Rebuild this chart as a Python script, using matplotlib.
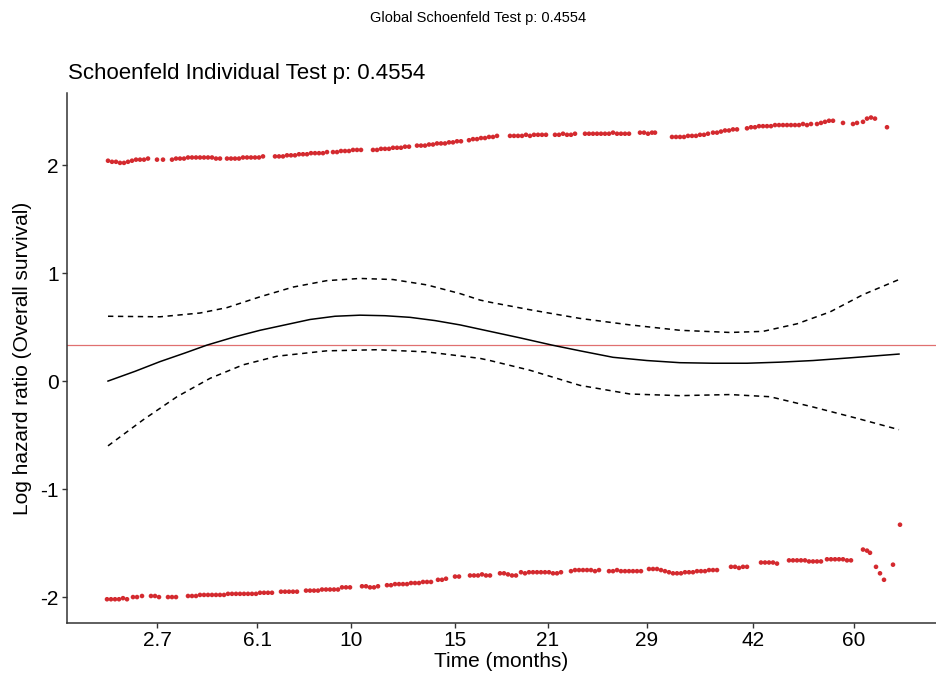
import matplotlib
matplotlib.use("Agg")
import matplotlib.pyplot as plt

plt.rcParams['font.family'] = ['Liberation Sans', 'DejaVu Sans']

# transformed time axis (km-scale, arbitrary units)
tick_pos = [100, 200, 294, 398, 491, 590, 696, 797]
tick_labels = ['2.7', '6.1', '10', '15', '21', '29', '42', '60']

# upper residual band
up_x = [51, 55, 59, 63, 67, 71, 75, 79, 83, 87, 91,
        100, 106,
        115, 119, 123, 127, 131, 135, 139, 143, 147, 151, 155, 159, 163,
        170, 174, 178, 182, 186, 190, 194, 198, 202, 206,
        218, 222, 226, 230, 234, 238, 242, 246, 250, 254,
        258, 262, 266, 270, 276, 280, 284, 288, 292, 296, 300, 304,
        316, 320, 324, 328, 332, 336, 340, 344, 348, 352, 360, 364, 368, 372,
        376, 380, 384, 388, 392, 396, 400, 404, 412, 416, 420, 424, 428, 432,
        436, 440,
        453, 457, 461, 465, 469, 473, 477, 481, 485, 489,
        498, 502, 506, 510, 514, 518,
        528, 532, 536, 540, 544, 548, 552, 556, 560, 564, 568, 572,
        583, 587, 591, 595, 598,
        615, 619, 623, 627, 631, 635, 639, 643, 647, 651,
        656, 660, 664, 668, 672, 676, 680,
        690, 694, 698, 702, 706, 710, 714, 718, 722,
        726, 730, 734, 738, 742, 746, 750, 754,
        760, 764, 768, 772, 776,
        786, 796, 800, 806, 810, 814, 818, 830]
up_y = [2.04, 2.03, 2.03, 2.02, 2.02, 2.03, 2.04, 2.05, 2.05, 2.05, 2.06,
        2.05, 2.05,
        2.05, 2.06, 2.06, 2.06, 2.07, 2.07, 2.07, 2.07, 2.07, 2.07, 2.07, 2.06, 2.06,
        2.06, 2.06, 2.06, 2.06, 2.07, 2.07, 2.07, 2.07, 2.07, 2.08,
        2.08, 2.08, 2.08, 2.09, 2.09, 2.09, 2.10, 2.10, 2.10, 2.11,
        2.11, 2.11, 2.11, 2.12, 2.12, 2.12, 2.13, 2.13, 2.13, 2.14, 2.14, 2.14,
        2.14, 2.14, 2.15, 2.15, 2.15, 2.16, 2.16, 2.16, 2.17, 2.17, 2.18, 2.18, 2.18, 2.19,
        2.19, 2.20, 2.20, 2.20, 2.21, 2.21, 2.22, 2.22, 2.23, 2.24, 2.24, 2.25, 2.25, 2.26,
        2.26, 2.27,
        2.27, 2.27, 2.27, 2.27, 2.28, 2.27, 2.28, 2.28, 2.28, 2.28,
        2.28, 2.28, 2.29, 2.28, 2.28, 2.29,
        2.29, 2.29, 2.29, 2.29, 2.29, 2.29, 2.29, 2.30, 2.29, 2.29, 2.29, 2.29,
        2.30, 2.30, 2.29, 2.30, 2.30,
        2.26, 2.26, 2.26, 2.26, 2.27, 2.27, 2.27, 2.28, 2.28, 2.29,
        2.30, 2.30, 2.31, 2.32, 2.32, 2.33, 2.33,
        2.34, 2.35, 2.35, 2.36, 2.36, 2.36, 2.36, 2.37, 2.37,
        2.37, 2.37, 2.37, 2.37, 2.37, 2.38, 2.37, 2.38,
        2.38, 2.39, 2.40, 2.41, 2.41,
        2.39, 2.38, 2.39, 2.40, 2.43, 2.44, 2.43, 2.35]

# lower residual band
lo_x = [50, 54, 58, 62, 66, 70,
        76, 80, 85,
        94, 98, 102,
        111, 115, 119,
        131, 135, 139, 143, 147, 151, 155, 159, 163, 167, 171, 175, 179, 183, 187,
        191, 195, 199, 203, 207, 211, 215,
        224, 228, 232, 236, 240,
        249, 253, 257, 261, 265, 269, 273, 277, 281,
        285, 289, 293,
        305, 309, 313, 317, 321,
        330, 334, 338, 342, 346, 350, 354, 358, 362, 366, 370, 374,
        381, 385, 389,
        398, 402,
        413, 417, 421, 425, 429, 433,
        443, 447, 451, 455, 459,
        464, 468, 472, 476, 480, 484, 488,
        492, 496, 500, 504,
        514, 518, 522, 526, 530, 534, 538, 542,
        552, 556, 560, 564, 568, 572, 576, 580, 584,
        592, 596, 600, 604, 608,
        612, 616, 620,
        624, 628, 632, 636, 640, 644, 648, 652, 656, 660,
        674, 678, 682, 686, 690,
        704, 708, 712, 716, 720,
        732, 736, 740, 744, 748, 752, 756,
        760, 764,
        770, 774, 778, 782, 786, 790, 794,
        806, 810, 813,
        819, 823, 827, 836, 843]
lo_y = [-2.02, -2.02, -2.02, -2.02, -2.01, -2.02,
        -2.00, -2.00, -1.99,
        -1.99, -1.99, -2.00,
        -2.00, -2.00, -2.00,
        -1.99, -1.99, -1.99, -1.98, -1.98, -1.98, -1.98, -1.98, -1.98, -1.98, -1.97, -1.97, -1.97, -1.97, -1.97,
        -1.97, -1.97, -1.97, -1.96, -1.96, -1.96, -1.96,
        -1.95, -1.95, -1.95, -1.95, -1.95,
        -1.94, -1.94, -1.94, -1.94, -1.93, -1.93, -1.93, -1.93, -1.93,
        -1.91, -1.91, -1.91,
        -1.90, -1.90, -1.91, -1.91, -1.90,
        -1.89, -1.89, -1.88, -1.88, -1.88, -1.88, -1.87, -1.87, -1.87, -1.86, -1.86, -1.86,
        -1.84, -1.84, -1.83,
        -1.81, -1.81,
        -1.80, -1.80, -1.80, -1.79, -1.80, -1.80,
        -1.78, -1.78, -1.79, -1.80, -1.80,
        -1.77, -1.78, -1.77, -1.77, -1.77, -1.77, -1.77,
        -1.77, -1.78, -1.78, -1.77,
        -1.76, -1.75, -1.75, -1.75, -1.75, -1.75, -1.76, -1.75,
        -1.76, -1.76, -1.75, -1.76, -1.76, -1.76, -1.76, -1.76, -1.76,
        -1.74, -1.74, -1.74, -1.75, -1.76,
        -1.77, -1.78, -1.78,
        -1.78, -1.77, -1.77, -1.77, -1.76, -1.76, -1.76, -1.75, -1.75, -1.75,
        -1.72, -1.72, -1.73, -1.72, -1.72,
        -1.68, -1.68, -1.68, -1.68, -1.69,
        -1.66, -1.66, -1.66, -1.66, -1.66, -1.67, -1.67,
        -1.67, -1.67,
        -1.65, -1.65, -1.65, -1.65, -1.65, -1.66, -1.66,
        -1.56, -1.57, -1.59,
        -1.72, -1.78, -1.84, -1.70, -1.33]

# smoothed beta(t) and confidence band
fit_x = [51, 78, 103, 128, 150, 178, 203, 228, 253, 278, 303, 328, 353, 378,
         403, 433, 463, 495, 523, 556, 590, 623, 656, 690, 723, 756, 793, 842]
fit_y = [0.00, 0.09, 0.18, 0.26, 0.333, 0.41, 0.47, 0.52, 0.57, 0.60, 0.61, 0.605,
         0.59, 0.56, 0.52, 0.46, 0.40, 0.333, 0.28, 0.22, 0.19, 0.17, 0.165, 0.165,
         0.175, 0.19, 0.215, 0.25]
upr_x = [51, 103, 143, 170, 203, 236, 270, 303, 336, 370, 403, 423, 433, 473,
         523, 573, 623, 673, 706, 740, 773, 806, 842]
upr_y = [0.60, 0.595, 0.63, 0.68, 0.78, 0.87, 0.93, 0.95, 0.94, 0.89, 0.81, 0.75,
         0.73, 0.66, 0.58, 0.52, 0.47, 0.45, 0.46, 0.53, 0.64, 0.80, 0.94]
lwr_x = [51, 86, 120, 153, 186, 220, 270, 320, 370, 423, 433, 473, 523, 573,
         623, 673, 713, 756, 800, 842]
lwr_y = [-0.60, -0.36, -0.145, 0.025, 0.15, 0.23, 0.28, 0.29, 0.27, 0.21, 0.19,
         0.10, -0.04, -0.12, -0.135, -0.125, -0.145, -0.24, -0.345, -0.45]

coef_line = 0.333

W, H = 936, 681
fig = plt.figure(figsize=(W / 100, H / 100), dpi=100)
ax = fig.add_axes([67 / W, 58 / H, (W - 67) / W, (623 - 93) / H])

ax.axhline(coef_line, color='#E07070', lw=0.9, zorder=1)
pt_col = '#D42A2F'
ax.scatter(up_x, up_y, s=11, color=pt_col, edgecolors='none', zorder=2)
ax.scatter(lo_x, lo_y, s=11, color=pt_col, edgecolors='none', zorder=2)
ax.plot(fit_x, fit_y, color='black', lw=1.1, zorder=3)
ax.plot(upr_x, upr_y, color='black', lw=1.1, dashes=(3.5, 3), zorder=3)
ax.plot(lwr_x, lwr_y, color='black', lw=1.1, dashes=(3.5, 3), zorder=3)

ax.set_xlim(10, 879)
ax.set_ylim(-2.24, 2.667)
ax.set_xticks(tick_pos)
ax.set_xticklabels(tick_labels)
ax.set_yticks([-2, -1, 0, 1, 2])
ax.set_yticklabels(['-2', '-1', '0', '1', '2'])
for s in ['top', 'right']:
    ax.spines[s].set_visible(False)
for s in ['left', 'bottom']:
    ax.spines[s].set_color('#333333')
    ax.spines[s].set_linewidth(1.1)
ax.tick_params(axis='both', length=3.5, width=1.0, color='#333333',
               labelsize=15, labelcolor='black', pad=2.5)

ax.set_xlabel('Time (months)', fontsize=15, labelpad=1)
ax.set_ylabel('Log hazard ratio (Overall survival)', fontsize=15, labelpad=6)

fig.text(68 / W, 1 - 73 / H, 'Schoenfeld Individual Test p: 0.4554',
         fontsize=16, ha='left', va='center')
fig.text(478 / W, 1 - 18 / H, 'Global Schoenfeld Test p: 0.4554',
         fontsize=10.5, ha='center', va='center')

fig.savefig('out.png', dpi=100)
